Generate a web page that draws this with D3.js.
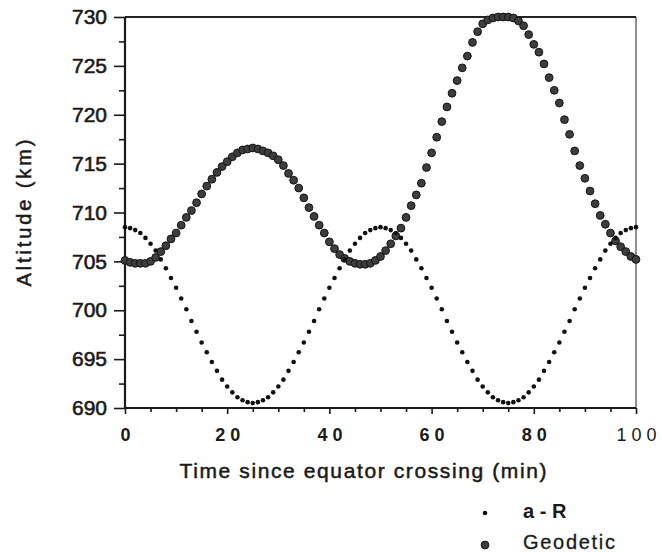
<!DOCTYPE html>
<html>
<head>
<meta charset="utf-8">
<script src="https://cdn.jsdelivr.net/npm/d3@7"></script>
<style>
  body { margin: 0; background: #fff; }
  text { font-family: "Liberation Sans", Arial, sans-serif; fill: #1a1a1a; }
</style>
</head>
<body>
<svg width="662" height="552"></svg>
<script>
// time since equator crossing, one sample per minute
const minutes = d3.range(0, 101);

// a - R (km)
const aMinusR = [
  708.5, 708.4, 708.2, 707.9, 707.4, 706.8, 706.1, 705.2, 704.3, 703.3,
  702.3, 701.2, 700.1, 698.9, 697.8, 696.7, 695.7, 694.7, 693.8, 692.9,
  692.2, 691.6, 691.1, 690.8, 690.6, 690.5, 690.6, 690.8, 691.1, 691.6,
  692.2, 692.9, 693.8, 694.7, 695.7, 696.7, 697.8, 698.9, 700.1, 701.2,
  702.3, 703.3, 704.3, 705.2, 706.1, 706.8, 707.4, 707.9, 708.2, 708.4,
  708.5, 708.4, 708.2, 707.9, 707.4, 706.8, 706.1, 705.2, 704.3, 703.3,
  702.3, 701.2, 700.1, 698.9, 697.8, 696.7, 695.7, 694.7, 693.8, 692.9,
  692.2, 691.6, 691.1, 690.8, 690.6, 690.5, 690.6, 690.8, 691.1, 691.6,
  692.2, 692.9, 693.8, 694.7, 695.7, 696.7, 697.8, 698.9, 700.1, 701.2,
  702.3, 703.3, 704.3, 705.2, 706.1, 706.8, 707.4, 707.9, 708.2, 708.4,
  708.5
];

// geodetic altitude (km)
const geodetic = [
  705.1, 704.9, 704.8, 704.8, 704.8, 705.0, 705.4, 706.0, 706.6, 707.3,
  707.9, 708.7, 709.5, 710.2, 711.0, 711.9, 712.7, 713.4, 714.1, 714.7,
  715.2, 715.7, 716.1, 716.4, 716.5, 716.6, 716.5, 716.3, 716.1, 715.8,
  715.4, 714.8, 714.0, 713.3, 712.5, 711.5, 710.5, 709.6, 708.7, 707.9,
  707.0, 706.3, 705.7, 705.3, 705.0, 704.8, 704.7, 704.7, 704.8, 705.1,
  705.5, 706.1, 706.8, 707.6, 708.4, 709.5, 710.7, 711.8, 713.0, 714.6,
  716.1, 717.7, 719.3, 720.8, 722.2, 723.5, 724.8, 726.0, 727.4, 728.5,
  729.3, 729.7, 729.9, 730.0, 730.0, 730.0, 729.9, 729.6, 729.1, 728.2,
  727.2, 726.4, 725.2, 723.8, 722.5, 721.2, 719.5, 718.0, 716.3, 714.8,
  713.5, 712.2, 710.9, 709.7, 708.8, 707.9, 707.1, 706.5, 706.0, 705.5,
  705.2
];

const xTicks = [0, 20, 40, 60, 80, 100];
const xTickLabels = ["0", "2 0", "4 0", "6 0", "8 0", "1 0 0"];
const yTicks = [690, 695, 700, 705, 710, 715, 720, 725, 730];
const legendLabels = ["a - R", "Geodetic"];

const svg = d3.select("svg");
svg.append("rect").attr("width", 662).attr("height", 552).attr("fill", "#fff");

const x = d3.scaleLinear().domain([0, 100]).range([125, 636]);
const y = d3.scaleLinear().domain([690, 730]).range([408, 17]);

// frame: top and right
svg.append("line")
  .attr("x1", x(0)).attr("x2", x(100)).attr("y1", y(730)).attr("y2", y(730))
  .attr("stroke", "#222").attr("stroke-width", 2);
svg.append("line")
  .attr("x1", x(100)).attr("x2", x(100)).attr("y1", y(730)).attr("y2", y(690))
  .attr("stroke", "#444").attr("stroke-width", 1.2);

// y axis
const yAxis = svg.append("g")
  .attr("transform", `translate(${x(0)},0)`)
  .call(d3.axisLeft(y).tickValues(yTicks).tickSize(11).tickPadding(6).tickFormat(d3.format("d")));
svg.append("g")
  .attr("transform", `translate(${x(0)},0)`)
  .call(d3.axisLeft(y).tickValues(d3.range(692.5, 730, 5)).tickSize(6).tickFormat(""))
  .call(g => g.select(".domain").remove());

// x axis
const xAxis = svg.append("g")
  .attr("transform", `translate(0,${y(690)})`)
  .call(d3.axisBottom(x).tickValues(xTicks).tickSize(6).tickPadding(14)
    .tickFormat((d, i) => xTickLabels[i]));
svg.append("g")
  .attr("transform", `translate(0,${y(690)})`)
  .call(d3.axisBottom(x).tickValues(d3.range(5, 100, 5).filter(d => d % 20 !== 0)).tickSize(4).tickFormat(""))
  .call(g => g.select(".domain").remove());

svg.selectAll(".domain").attr("stroke", "#1a1a1a").attr("stroke-width", 2.2);
svg.selectAll(".tick line").attr("stroke", "#1a1a1a").attr("stroke-width", 1.6);
yAxis.selectAll(".domain").attr("d", `M-0,${y(690)}V${y(730)}`);
xAxis.selectAll(".domain").attr("d", `M${x(0)},0H${x(100)}`);

yAxis.selectAll(".tick text")
  .attr("font-size", 21).attr("font-family", "Liberation Sans, Arial, sans-serif")
  .attr("fill", "#1a1a1a").attr("stroke", "#1a1a1a").attr("stroke-width", 0.6)
  .attr("dx", -1);
xAxis.selectAll(".tick text")
  .attr("font-size", 18).attr("font-family", "Liberation Sans, Arial, sans-serif")
  .attr("fill", (d) => d === 100 ? "#888" : "#1a1a1a")
  .attr("font-weight", (d) => d === 100 ? "normal" : "bold");

// axis titles
svg.append("text")
  .attr("x", 363).attr("y", 478)
  .attr("text-anchor", "middle")
  .attr("font-size", 21)
  .attr("stroke", "#1a1a1a").attr("stroke-width", 0.5)
  .attr("textLength", 367).attr("lengthAdjust", "spacing")
  .text("Time since equator crossing (min)");

svg.append("text")
  .attr("transform", "translate(31,213) rotate(-90)")
  .attr("text-anchor", "middle")
  .attr("font-size", 20)
  .attr("stroke", "#1a1a1a").attr("stroke-width", 0.5)
  .attr("textLength", 147).attr("lengthAdjust", "spacing")
  .text("Altitude  (km)");

// series
const geo = minutes.map((t, i) => ({ t, v: geodetic[i] }));
const aR = minutes.map((t, i) => ({ t, v: aMinusR[i] }));

svg.append("g").selectAll("circle")
  .data(geo).join("circle")
  .attr("cx", d => x(d.t)).attr("cy", d => y(d.v))
  .attr("r", 3.9)
  .attr("fill", "#3d3d3d").attr("stroke", "#141414").attr("stroke-width", 1);

svg.append("g").selectAll("circle")
  .data(aR).join("circle")
  .attr("cx", d => x(d.t)).attr("cy", d => y(d.v))
  .attr("r", 2.3)
  .attr("fill", "#111");

// legend
const legend = svg.append("g");
legend.append("circle").attr("cx", 485).attr("cy", 513).attr("r", 2.3).attr("fill", "#111");
legend.append("circle").attr("cx", 485).attr("cy", 545).attr("r", 3.9)
  .attr("fill", "#3d3d3d").attr("stroke", "#141414").attr("stroke-width", 1);
legend.append("text").attr("x", 523).attr("y", 518).attr("font-size", 20)
  .attr("font-weight", "bold").text(legendLabels[0]);
legend.append("text").attr("x", 523).attr("y", 549).attr("font-size", 20)
  .attr("stroke", "#1a1a1a").attr("stroke-width", 0.3)
  .attr("textLength", 92).attr("lengthAdjust", "spacing").text(legendLabels[1]);
</script>
</body>
</html>
